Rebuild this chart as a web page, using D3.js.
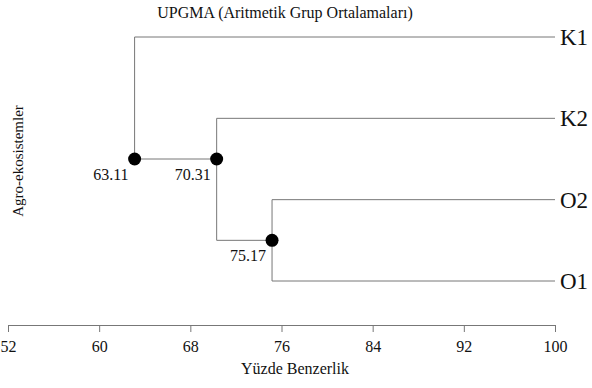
<!DOCTYPE html>
<html><head><meta charset="utf-8">
<script src="https://cdn.jsdelivr.net/npm/d3@7"></script>
<style>body{margin:0;background:#fff}svg{display:block}text{font-family:"Liberation Serif","Times New Roman",serif;fill:#111}</style>
</head><body>
<script>
const title = "UPGMA (Aritmetik Grup Ortalamaları)";
const xLabel = "Yüzde Benzerlik";
const yLabel = "Agro-ekosistemler";
const leaves = ["K1", "K2", "O2", "O1"];
const mergeHeights = [75.17, 70.31, 63.11];
const mergeChildren = [["O2", "O1"], ["K2", 0], ["K1", 1]];
const tickValues = [52, 60, 68, 76, 84, 92, 100];

const W = 592, H = 388;
const svg = d3.select("body").append("svg").attr("width", W).attr("height", H);
const x = d3.scaleLinear().domain([52, 100]).range([8, 555]);
const y = d3.scalePoint().domain(leaves).range([37, 281]);
const lineColor = "#777";

// axis
const axis = d3.axisBottom(x).tickValues(tickValues).tickSize(7).tickSizeOuter(0).tickPadding(9);
const ag = svg.append("g").attr("transform", "translate(0,325)").call(axis);
ag.select(".domain").attr("stroke", lineColor);
ag.selectAll(".tick line").attr("stroke", lineColor);
ag.selectAll(".tick text").attr("font-size", 16).attr("font-family", "Liberation Serif").attr("fill", "#111");

svg.append("text").attr("x", 295).attr("y", 374).attr("text-anchor", "middle").attr("font-size", 16).text(xLabel);
svg.append("text").attr("x", 285).attr("y", 18).attr("text-anchor", "middle").attr("font-size", 16).text(title);
svg.append("text").attr("transform", "translate(23,161) rotate(-90)").attr("text-anchor", "middle").attr("font-size", 15).text(yLabel);

const g = svg.append("g").attr("stroke", lineColor).attr("stroke-width", 1).attr("fill", "none");
const nodes = mergeHeights.map((h, i) => ({h, children: mergeChildren[i]}));
const root = nodes.length - 1;
const rootY = (y(leaves[0]) + y(leaves[leaves.length - 1])) / 2;
function childY(c) { return typeof c === "number" ? nodes[c].y : y(c); }
function childX(c) { return typeof c === "number" ? x(nodes[c].h) : x(100); }
nodes.forEach(n => {
  n.top = childY(n.children[0]); n.bot = childY(n.children[1]);
  n.y = (n.top + n.bot) / 2;
});
nodes[root].y = rootY;
nodes[root].children.forEach(c => {
  if (typeof c === "number") { const n = nodes[c]; n.y = Math.max(n.top, Math.min(n.bot, rootY)); }
});
nodes[root].top = childY(nodes[root].children[0]);
nodes[root].bot = childY(nodes[root].children[1]);

nodes.forEach(n => {
  const nx = x(n.h);
  n.children.forEach(c => {
    const cy = childY(c);
    g.append("line").attr("x1", nx).attr("x2", childX(c)).attr("y1", cy).attr("y2", cy);
  });
  g.append("line").attr("x1", nx).attr("x2", nx).attr("y1", n.top).attr("y2", n.bot);
});

svg.selectAll("circle.node").data(nodes).join("circle").attr("class", "node")
  .attr("cx", d => x(d.h)).attr("cy", d => d.y).attr("r", 6.5).attr("fill", "#000");
svg.selectAll("text.nl").data(nodes).join("text").attr("class", "nl")
  .attr("x", d => x(d.h) - 6).attr("y", d => d.y + 21).attr("text-anchor", "end").attr("font-size", 16)
  .text(d => d.h.toFixed(2));

svg.selectAll("text.leaf").data(leaves).join("text").attr("class", "leaf")
  .attr("x", 560).attr("y", d => y(d)).attr("dy", "0.35em").attr("font-size", 23).text(d => d);
</script>
</body></html>
